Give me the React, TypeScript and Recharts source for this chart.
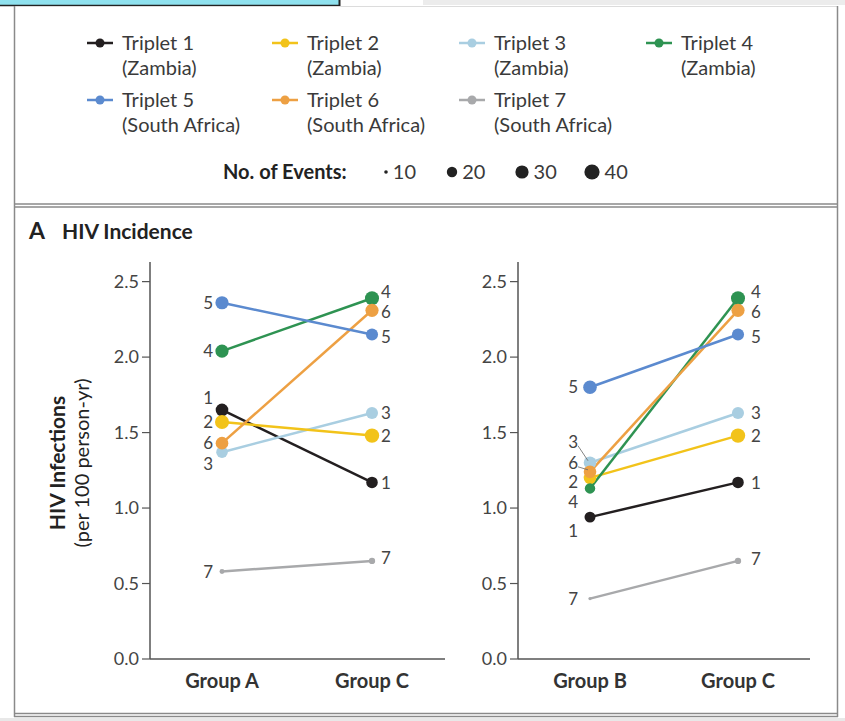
import { LineChart, Line, XAxis, YAxis, LabelList } from 'recharts';

// triplet ids, names and colours
const triplets = ['1', '2', '3', '4', '5', '6', '7'];
const tripletNames = ['Triplet 1', 'Triplet 2', 'Triplet 3', 'Triplet 4', 'Triplet 5', 'Triplet 6', 'Triplet 7'];
const countries = ['(Zambia)', '(Zambia)', '(Zambia)', '(Zambia)', '(South Africa)', '(South Africa)', '(South Africa)'];
const colors = ['#231f20', '#f2c31a', '#a9cee1', '#2e9352', '#5b8acf', '#eda043', '#a8a9ab'];

const groupsLeft = ['Group A', 'Group C'];
const groupsRight = ['Group B', 'Group C'];

// HIV infections per 100 person-yr, one value per triplet
const incidenceA = [1.65, 1.57, 1.37, 2.04, 2.36, 1.43, 0.58];
const incidenceB = [0.94, 1.2, 1.3, 1.13, 1.8, 1.24, 0.4];
const incidenceC = [1.17, 1.48, 1.63, 2.39, 2.15, 2.31, 0.65];

// no. of events (dot size)
const eventsA = [28, 34, 24, 30, 30, 28, 12];
const eventsB = [22, 28, 28, 20, 32, 28, 9];
const eventsC = [24, 36, 26, 34, 26, 30, 14];

const yTicks = [0, 0.5, 1, 1.5, 2, 2.5];
const eventLegend = [10, 20, 30, 40];

const buildRows = (groups: string[], values: number[][], events: number[][]) =>
  groups.map((g, i) => {
    const row: any = { group: g };
    triplets.forEach((t, k) => {
      row['t' + t] = values[i][k];
      row['e' + t] = events[i][k];
    });
    return row;
  });

const leftRows = buildRows(groupsLeft, [incidenceA, incidenceC], [eventsA, eventsC]);
const rightRows = buildRows(groupsRight, [incidenceB, incidenceC], [eventsB, eventsC]);

// events -> dot radius
const radiusFor = (e: number) => {
  const pts = [[0, 0], [10, 1.8], [20, 5.2], [30, 6.6], [40, 7.6], [60, 9.2]];
  for (let i = 1; i < pts.length; i++) {
    if (e <= pts[i][0]) {
      const [x0, y0] = pts[i - 1];
      const [x1, y1] = pts[i];
      return y0 + ((e - x0) / (x1 - x0)) * (y1 - y0);
    }
  }
  return 9.2;
};

// drawing order (later on top)
const drawOrder = ['7', '1', '3', '2', '4', '6', '5'];

const textColor = '#3a3a3a';

const leftPanel = {
  left: 90,
  width: 365,
  padding: { left: 72, right: 73 },
  gapLeft: 9,
  gapRight: 9,
  nudges: {
    left: { '1': -12, '3': 12 } as Record<string, number>,
    right: { '4': -6, '6': 2, '5': 2, '7': -3 } as Record<string, number>,
  },
  leaders: [] as string[],
};

const rightPanel = {
  left: 458,
  width: 362,
  padding: { left: 72, right: 72 },
  gapLeft: 12,
  gapRight: 13,
  nudges: {
    left: { '3': -21, '6': -9, '2': 4, '4': 13, '1': 14 } as Record<string, number>,
    right: { '4': -6, '6': 2, '5': 2, '7': -2 } as Record<string, number>,
  },
  leaders: ['3', '6'],
};

const makeLabel = (t: string, panel: typeof leftPanel) => (p: any) => {
  const vx = p.viewBox?.x ?? p.x;
  const vy = p.viewBox?.y ?? p.y;
  const side = p.index === 0 ? 'left' : 'right';
  const nudge = panel.nudges[side][t] ?? 0;
  const tx = side === 'left' ? vx - panel.gapLeft : vx + panel.gapRight;
  const ty = vy + nudge;
  const lead = side === 'left' && panel.leaders.includes(t);
  return (
    <g key={`lbl-${t}-${p.index}`}>
      {lead && <line x1={tx} y1={ty + 4} x2={vx - 2} y2={vy - 2} stroke="#666" strokeWidth={0.8} />}
      <text x={tx} y={ty} dy="0.36em" textAnchor={side === 'left' ? 'end' : 'start'} fontSize={17} fill="#444">
        {t}
      </text>
    </g>
  );
};

function SlopePanel({ rows, panel }: { rows: any[]; panel: typeof leftPanel }) {
  return (
    <div style={{ position: 'absolute', left: panel.left, top: 250 }}>
      <LineChart width={panel.width} height={454} data={rows} margin={{ top: 12, right: 10, left: 0, bottom: 0 }}>
        <XAxis
          dataKey="group"
          padding={panel.padding}
          tickLine={false}
          axisLine={{ stroke: '#555', strokeWidth: 1.5 }}
          tick={{ fill: '#333', fontSize: 20, fontWeight: 700 }}
          tickMargin={9}
          interval={0}
          height={45}
        />
        <YAxis
          type="number"
          domain={[0, 2.63]}
          ticks={yTicks}
          width={60}
          tickSize={8}
          tickMargin={3}
          tickFormatter={(v: number) => v.toFixed(1)}
          axisLine={{ stroke: '#555', strokeWidth: 1.5 }}
          tickLine={{ stroke: '#555', strokeWidth: 1.2 }}
          tick={{ fill: '#444', fontSize: 18 }}
        />
        {drawOrder.map((t) => {
          const color = colors[Number(t) - 1];
          return (
            <Line
              key={t}
              dataKey={'t' + t}
              stroke={color}
              strokeWidth={2.5}
              isAnimationActive={false}
              dot={(d: any) => (
                <circle
                  key={`dot-${t}-${d.index}`}
                  cx={d.cx}
                  cy={d.cy}
                  r={radiusFor(d.payload['e' + t])}
                  fill={color}
                  stroke="none"
                />
              )}
              activeDot={false}
            >
              <LabelList dataKey={'t' + t} content={makeLabel(t, panel)} />
            </Line>
          );
        })}
      </LineChart>
    </div>
  );
}

const legendCols = [87, 272, 459, 646];
const legendRows = [43, 100];
const eventDotX = [386, 452, 522, 592];

export default function App() {
  return (
    <div
      style={{
        position: 'absolute',
        left: 0,
        top: 0,
        width: 845,
        height: 721,
        overflow: 'hidden',
        background: '#fff',
        fontFamily: 'Lato, "Open Sans", sans-serif',
      }}
    >
      <svg width={845} height={721} style={{ position: 'absolute', left: 0, top: 0 }}>
        {/* page chrome */}
        <rect x={0} y={0} width={339} height={5} fill="#8fe1ee" />
        <line x1={0} y1={5.5} x2={340} y2={5.5} stroke="#222" strokeWidth={1.5} />
        <line x1={339.5} y1={0} x2={339.5} y2={6} stroke="#222" strokeWidth={2} />
        <rect x={423} y={0} width={422} height={5} fill="#ececec" />
        <line x1={14} y1={6.5} x2={838} y2={6.5} stroke="#dcdcdc" strokeWidth={1} />
        <line x1={14.5} y1={6} x2={14.5} y2={717} stroke="#8a8a8a" strokeWidth={1.5} />
        <line x1={837.5} y1={6} x2={837.5} y2={717} stroke="#8a8a8a" strokeWidth={1.5} />
        <line x1={14} y1={204} x2={838} y2={204} stroke="#8a8a8a" strokeWidth={1.3} />
        <line x1={14} y1={207} x2={838} y2={207} stroke="#8a8a8a" strokeWidth={1.3} />
        <line x1={14} y1={713.5} x2={838} y2={713.5} stroke="#8a8a8a" strokeWidth={1.3} />
        <line x1={14} y1={716.5} x2={838} y2={716.5} stroke="#8a8a8a" strokeWidth={1.3} />
        <rect x={0} y={718} width={845} height={3} fill="#e8e8e8" />

        {/* legend */}
        {triplets.map((t, i) => {
          const cx = legendCols[i % 4];
          const cy = legendRows[Math.floor(i / 4)];
          return (
            <g key={t}>
              <line x1={cx} y1={cy} x2={cx + 26} y2={cy} stroke={colors[i]} strokeWidth={2.5} />
              <circle cx={cx + 13} cy={cy} r={4.5} fill={colors[i]} />
              <text x={cx + 35} y={cy} dy="0.36em" fontSize={20} fill={textColor}>
                {tripletNames[i]}
              </text>
              <text x={cx + 35} y={cy + 25} dy="0.36em" fontSize={20} fill={textColor}>
                {countries[i]}
              </text>
            </g>
          );
        })}
        <text x={223} y={172} dy="0.36em" fontSize={20} fontWeight={700} fill="#222">
          No. of Events:
        </text>
        {eventLegend.map((e, i) => (
          <g key={e}>
            <circle cx={eventDotX[i]} cy={172} r={radiusFor(e)} fill="#222" />
            <text x={eventDotX[i] + radiusFor(e) + 5} y={172} dy="0.36em" fontSize={20} fill={textColor}>
              {e}
            </text>
          </g>
        ))}

        {/* panel title */}
        <text x={29} y={239} fontSize={23} fontWeight={700} fill="#222">
          A
        </text>
        <text x={62} y={239} fontSize={21} fontWeight={700} fill="#222">
          HIV Incidence
        </text>

        {/* y-axis title */}
        <text
          transform="translate(57,463) rotate(-90)"
          textAnchor="middle"
          dy="0.36em"
          fontSize={21}
          fontWeight={700}
          fill="#222"
        >
          HIV Infections
        </text>
        <text transform="translate(82,463) rotate(-90)" textAnchor="middle" dy="0.36em" fontSize={20} fill="#222">
          (per 100 person-yr)
        </text>
      </svg>

      <SlopePanel rows={leftRows} panel={leftPanel} />
      <SlopePanel rows={rightRows} panel={rightPanel} />
    </div>
  );
}
